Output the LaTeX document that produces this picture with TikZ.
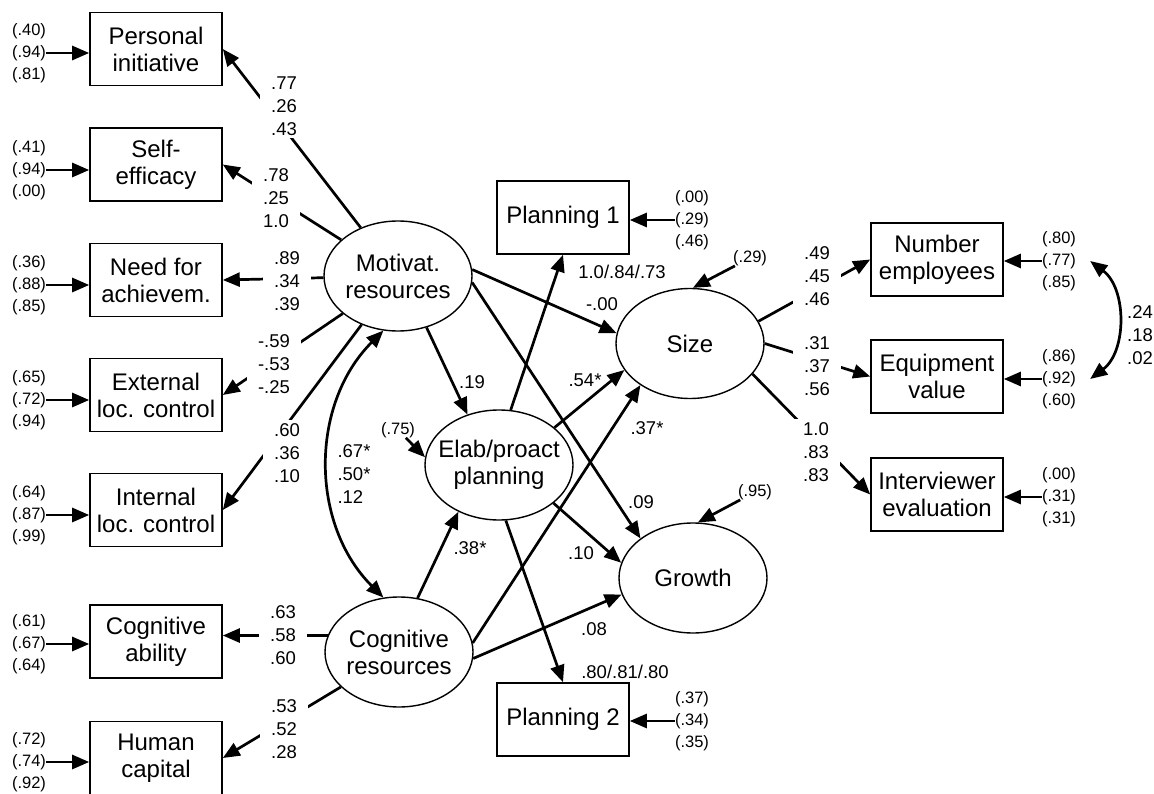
\documentclass[tikz,border=0pt]{standalone}
\usepackage{fontspec}
\setmainfont{Liberation Sans}
\usepackage{tikz}
\usetikzlibrary{shapes.geometric, arrows.meta, calc}
\newcommand{\obsfont}{\fontsize{24}{27}\selectfont}
\newcommand{\coeffont}{\fontsize{18.5}{23}\selectfont}
\newcommand{\residfont}{\fontsize{16.5}{22}\selectfont}

\begin{document}
\begin{tikzpicture}[
    x=1pt, y=1pt,
    every node/.style={align=center},
    obsbox/.style={rectangle, draw=black, line width=1.6pt, minimum width=132pt, minimum height=73pt, inner sep=0pt, font=\obsfont},
    latent/.style={ellipse, draw=black, line width=1.4pt, minimum width=148pt, minimum height=110pt, inner xsep=-10pt, inner ysep=0pt, font=\obsfont},
    load/.style={fill=white, inner xsep=11pt, inner ysep=3pt, font=\coeffont},
    coef/.style={inner sep=0pt, font=\coeffont},
    resid/.style={inner sep=0pt, font=\residfont},
    arrow/.style={-{Triangle[length=17pt,width=14pt]}, line width=2.7pt},
    dblarrow/.style={{Triangle[length=17pt,width=14pt]}-{Triangle[length=17pt,width=14pt]}, line width=2.7pt}
]
\useasboundingbox (0,0) rectangle (1154,-794);

% Indicators (left)
\node[obsbox] (boxPI) at (156,-49) {Personal\\initiative};
\node[obsbox] (boxSE) at (156,-164.5) {Self-\\efficacy};
\node[obsbox] (boxNA) at (156,-280) {Need for\\achievem.};
\node[obsbox] (boxEL) at (156,-395) {External\\loc. control};
\node[obsbox] (boxIL) at (156,-510) {Internal\\loc. control};
\node[obsbox] (boxCA) at (156,-641.5) {Cognitive\\ability};
\node[obsbox] (boxHC) at (156,-758) {Human\\capital};

% Residuals (left)
\node[resid] (errPI) at (29,-53) {(.40)\\(.94)\\(.81)};
\node[resid] (errSE) at (29,-170) {(.41)\\(.94)\\(.00)};
\node[resid] (errNA) at (29,-285) {(.36)\\(.88)\\(.85)};
\node[resid] (errEL) at (29,-400) {(.65)\\(.72)\\(.94)};
\node[resid] (errIL) at (29,-515) {(.64)\\(.87)\\(.99)};
\node[resid] (errCA) at (29,-644) {(.61)\\(.67)\\(.64)};
\node[resid] (errHC) at (29,-762) {(.72)\\(.74)\\(.92)};

% Latent variables
\node[latent] (motiv) at (398,-276) {Motivat.\\resources};
\node[latent] (cogn) at (399,-652) {Cognitive\\resources};
\node[latent] (elab) at (499,-465) {Elab/proact\\planning};
\node[latent] (size) at (690,-343.5) {Size};
\node[latent] (growth) at (693,-578) {Growth};

% Planning indicators
\node[obsbox] (plan1) at (563,-217.5) {Planning 1};
\node[obsbox] (plan2) at (563,-719.5) {Planning 2};
\node[resid] (errP1) at (692,-220) {(.00)\\(.29)\\(.46)};
\node[resid] (errP2) at (692,-721) {(.37)\\(.34)\\(.35)};

% Indicators (right)
\node[obsbox] (boxNE) at (937,-259.5) {Number\\employees};
\node[obsbox] (boxEV) at (937,-376.5) {Equipment\\value};
\node[obsbox] (boxIE) at (937,-494.5) {Interviewer\\evaluation};
\node[resid] (errNE) at (1059,-261) {(.80)\\(.77)\\(.85)};
\node[resid] (errEV) at (1059,-379) {(.86)\\(.92)\\(.60)};
\node[resid] (errIE) at (1059,-497) {(.00)\\(.31)\\(.31)};

% Disturbances
\node[resid] (errEB) at (398,-430) {(.75)};
\node[resid] (errSZ) at (750,-258) {(.29)};
\node[resid] (errGR) at (755,-492) {(.95)};

% Residual arrows
\foreach \n in {PI,SE,NA,EL,IL,CA,HC}
    \draw[arrow] (err\n) -- (err\n -| box\n.west);
\foreach \n in {NE,EV,IE}
    \draw[arrow] (err\n) -- (err\n -| box\n.east);
\draw[arrow] (errP1) -- (errP1 -| plan1.east);
\draw[arrow] (errP2) -- (errP2 -| plan2.east);
\draw[arrow] (errEB) -- (elab.174);
\draw[arrow] (errSZ) -- (size.87);
\draw[arrow] (errGR) -- (growth.85);

% Measurement paths
\draw[arrow] (motiv) -- (boxPI.east);
\draw[arrow] (motiv) -- (boxSE.east);
\draw[arrow] (motiv) -- (boxNA.east);
\draw[arrow] (motiv) -- (boxEL.east);
\draw[arrow] (motiv) -- (boxIL.east);
\draw[arrow] (cogn.167) -- (cogn.167 -| boxCA.east);
\draw[arrow] (cogn) -- (boxHC.east);
\draw[arrow] (size.18) -- (boxNE.west);
\draw[arrow] (size.east) -- (boxEV.west);
\draw[arrow] (size.-26) -- (boxIE.west);
\draw[arrow] (elab.78) -- (plan1.south);
\draw[arrow] (elab.-83) -- (plan2.north);

% Structural paths
\draw[arrow] (motiv.5) -- (size.172);
\draw[arrow] (motiv.-5) -- (growth.143);
\draw[arrow] (motiv.-61) -- (elab.122);
\draw[arrow] (elab.34) -- (size.202);
\draw[arrow] (elab.-35) -- (growth.168);
\draw[arrow] (cogn.71) -- (elab.229);
\draw[arrow] (cogn.7) -- (size.220);
\draw[arrow] (cogn.-5) -- (growth.193);

% Correlations
\draw[dblarrow] (motiv.255) to[bend right=45] (cogn.106);
\coordinate (cNE) at ([xshift=14pt]errNE.east);
\coordinate (cEV) at ([xshift=14pt]errEV.east);
\draw[dblarrow] (cNE) to[bend left=53] (cEV);

% Loadings
\node[load] (lPI) at (284,-106) {.77\\.26\\.43};
\node[load] (lSE) at (276,-198) {.78\\.25\\1.0};
\node[load] (lNA) at (287,-281) {.89\\.34\\.39};
\node[load] (lEL) at (274,-364) {-.59\\-.53\\-.25};
\node[load] (lIL) at (287,-453) {.60\\.36\\.10};
\node[load] (lCA) at (283,-635) {.63\\.58\\.60};
\node[load] (lHC) at (284,-729) {.53\\.52\\.28};
\node[load] (lNE) at (817,-276) {.49\\.45\\.46};
\node[load] (lEV) at (817,-366) {.31\\.37\\.56};
\node[load] (lIE) at (816,-452) {1.0\\.83\\.83};

% Coefficients
\node[coef] (cP1) at (622,-272) {1.0/.84/.73};
\node[coef] (cP2) at (625,-672) {.80/.81/.80};
\node[coef] (cMS) at (602,-304) {-.00};
\node[coef] (cME) at (472,-382) {.19};
\node[coef] (cES) at (585,-380) {.54*};
\node[coef] (cCS) at (647,-428) {.37*};
\node[coef] (cMG) at (641,-502) {.09};
\node[coef] (cEG) at (581,-553) {.10};
\node[coef] (cCE) at (470,-548) {.38*};
\node[coef] (cCG) at (594,-629) {.08};
\node[coef, align=left] (cMC) at (354,-474) {.67*\\.50*\\.12};
\node[coef, align=left] (cNV) at (1140,-335) {.24\\.18\\.02};

\end{tikzpicture}
\end{document}
